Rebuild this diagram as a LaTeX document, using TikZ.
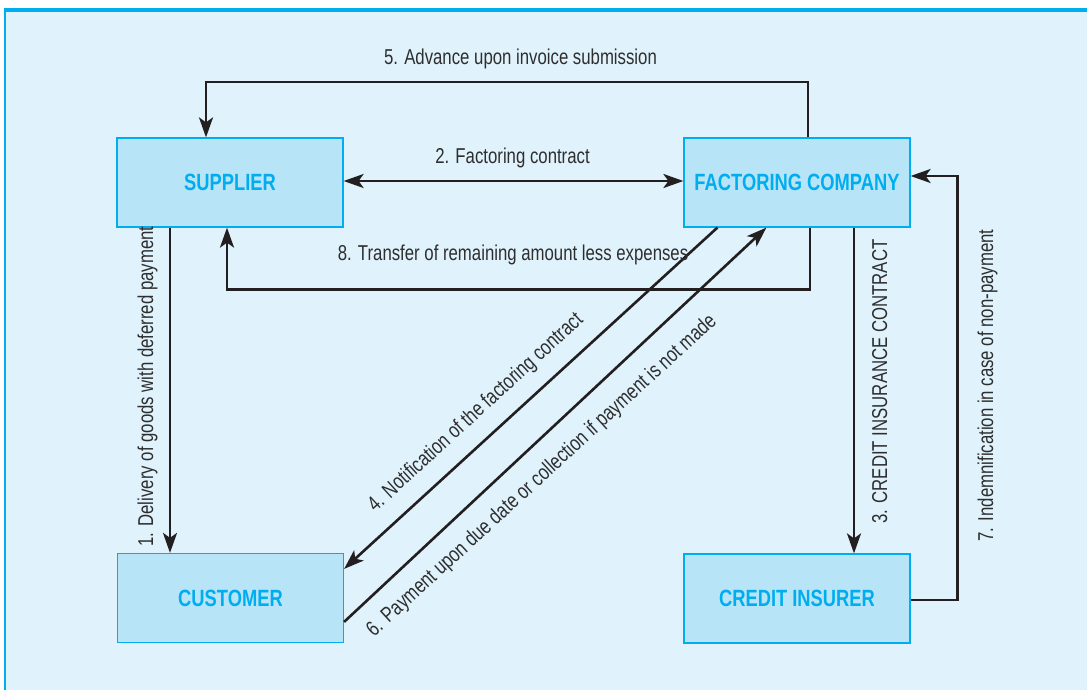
\documentclass[tikz,border=0pt]{standalone}
\usepackage{fontspec}
\setmainfont{Liberation Sans}[FakeStretch=0.78]
\usetikzlibrary{arrows.meta, calc}
\definecolor{framec}{HTML}{00AEEF}
\definecolor{paperc}{HTML}{E0F2FC}
\definecolor{boxc}{HTML}{B8E4F8}
\definecolor{inkc}{HTML}{231F20}
\definecolor{textc}{HTML}{2E2E2E}
\newcommand{\party}[3]{%
  \node[party] (#1) at #2 {#3};
}

\begin{document}
\begin{tikzpicture}[x=1pt, y=-1pt,
    >={Stealth[length=20pt, width=14pt, inset=5pt]},
    party/.style={rectangle, draw=framec, fill=boxc, line width=1.2pt,
      minimum width=226pt, minimum height=89pt, inner sep=0pt,
      text=framec, font=\fontsize{23.5}{26}\selectfont\bfseries},
    flow/.style={->, draw=inkc, line width=2.6pt},
    lbl/.style={text=textc, inner sep=0pt, font=\fontsize{21.5}{24}\selectfont}]
  \useasboundingbox (0,0) rectangle (1087,690);
  % panel
  \fill[paperc] (4,9) rectangle (1087,690);
  \draw[framec, line width=3.5pt] (4,10) -- (1087,10);
  \draw[framec, line width=2.5pt] (5,9) -- (5,690);

  \party{sup}{(230,182.5)}{SUPPLIER}
  \party{fac}{(797,182.5)}{FACTORING COMPANY}
  \party{cus}{(230.5,598)}{CUSTOMER}
  \party{ins}{(797,598.5)}{CREDIT INSURER}

  % flows, numbered as in the contract sequence
  \draw[flow] ($(sup.south)+(-60,0)$) -- ($(cus.north)+(-60.5,0)$);
  \node[lbl, rotate=90, anchor=base] (l1) at (153,386.5)
    {1. Delivery of goods with deferred payment};

  \draw[flow, <->] ([yshift=1.5pt]sup.east) -- ([yshift=1.5pt]fac.west);
  \node[lbl, anchor=base] (l2) at (512.5,164) {2. Factoring contract};

  \draw[flow] ($(fac.south)+(57,0)$) -- ($(ins.north)+(57,0)$);
  \node[lbl, rotate=90, anchor=base] (l3) at (887,381.5)
    {3. CREDIT INSURANCE CONTRACT};

  \draw[flow] ($(fac.south west)+(34,0)$) -- ($(cus.north east)+(0,16)$);
  \node[lbl, rotate=42.5] (l4) at (476,413)
    {4. Notification of the factoring contract};

  \draw[flow] ($(fac.north)+(11,0)$) -- ++(0,-55.5) -| ($(sup.north)+(-24,0)$);
  \node[lbl, anchor=base] (l5) at (520.5,65)
    {5. Advance upon invoice submission};

  \draw[flow] ($(cus.north east)+(0,69)$) -- ($(fac.south west)+(83,0)$);
  \node[lbl, rotate=42.5] (l6) at (542,476)
    {6. Payment upon due date or collection if payment is not made};

  \draw[flow] ($(ins.east)+(0,1.5)$) -- ++(47,0) |- ($(fac.east)+(0,-6.5)$);
  \node[lbl, rotate=90, anchor=base] (l7) at (993,385.5)
    {7. Indemnification in case of non-payment};

  \draw[flow] ($(fac.south)+(13,0)$) -- ++(0,62) -| ($(sup.south)+(-3,0)$);
  \node[lbl, anchor=base] (l8) at (513,260)
    {8. Transfer of remaining amount less expenses};
\end{tikzpicture}
\end{document}
